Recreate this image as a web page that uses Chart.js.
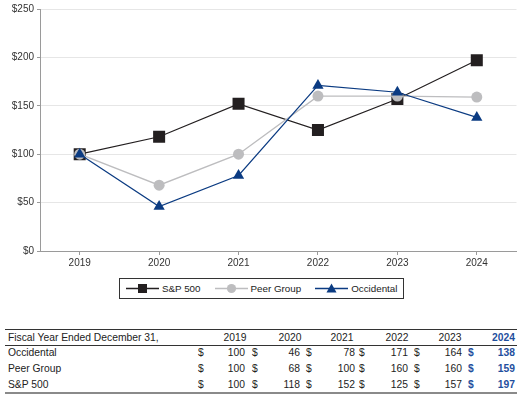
<!DOCTYPE html>
<html>
<head>
<meta charset="utf-8">
<script src="https://cdn.jsdelivr.net/npm/chart.js@4"></script>
<style>
  body { margin: 0; background: #fff; font-family: "Liberation Sans", Arial, sans-serif; color: #222; }
  #wrap { position: relative; width: 525px; height: 399px; overflow: hidden; }
  #chartBox { position: absolute; left: 0; top: 0; width: 525px; height: 272px; }
  #legend { position: absolute; left: 119px; top: 278px; width: 285px; height: 21px; border: 1px solid #333;
            display: flex; align-items: center; padding-left: 6px; box-sizing: border-box; font-size: 9.8px;
            white-space: nowrap; }
  #legend .item { display: flex; align-items: center; margin-right: 14px; flex-shrink: 0; }
  #legend .item span { margin-left: 3px; }
  #legend svg { flex-shrink: 0; }
  #table .t { position: absolute; font-size: 10.3px; line-height: 12px; white-space: nowrap; }
  .rule { position: absolute; left: 5px; width: 512px; }
</style>
</head>
<body>
<div id="wrap">
  <div id="chartBox"><canvas id="c" width="525" height="272"></canvas></div>
  <div id="legend"></div>
  <div id="table"></div>
</div>
<script>
// --- data ---
const years      = ['2019', '2020', '2021', '2022', '2023', '2024'];
const occidental = [100, 46, 78, 171, 164, 138];
const peerGroup  = [100, 68, 100, 160, 160, 159];
const sp500      = [100, 118, 152, 125, 157, 197];
const yTicks     = [0, 50, 100, 150, 200, 250];
const tableHead  = 'Fiscal Year Ended December 31,';

const NAVY = '#0b3b82';
const GRAY = '#bdbdbf';
const BLACK = '#231f20';
const HILITE = '#1f4f9e';

// legend/table order
const series = [
  { label: 'S&P 500',    data: sp500,      color: BLACK, style: 'rect',     r: 8.5, bw: 1.2 },
  { label: 'Peer Group', data: peerGroup,  color: GRAY,  style: 'circle',   r: 5.5, bw: 1.4 },
  { label: 'Occidental', data: occidental, color: NAVY,  style: 'triangle', r: 6.5, bw: 1.2 }
];

// first dataset is drawn on top, so reverse
const datasets = series.slice().reverse().map(s => ({
  label: s.label,
  data: s.data,
  borderColor: s.color,
  backgroundColor: s.color,
  borderWidth: s.bw,
  pointStyle: s.style,
  pointRadius: s.r,
  pointHoverRadius: s.r,
  pointBorderWidth: 0,
  tension: 0
}));

new Chart(document.getElementById('c'), {
  type: 'line',
  data: { labels: years, datasets },
  options: {
    responsive: false,
    animation: false,
    devicePixelRatio: 1,
    layout: { padding: { top: 6, right: 8, left: 0, bottom: 0 } },
    plugins: { legend: { display: false }, tooltip: { enabled: false } },
    scales: {
      x: {
        offset: true,
        grid: { drawOnChartArea: false, tickLength: 4, tickColor: '#9a9a9a' },
        border: { color: '#9a9a9a', width: 1 },
        ticks: { color: '#333', padding: 2, font: { family: 'Liberation Sans', size: 10 } },
        afterFit: s => { s.height = 21; }
      },
      y: {
        min: 0, max: 250,
        afterBuildTicks: s => { s.ticks = yTicks.map(v => ({ value: v })); },
        grid: { color: '#e6e6e6', tickLength: 3, tickColor: '#9a9a9a' },
        border: { color: '#9a9a9a', width: 1 },
        ticks: { color: '#333', padding: 3, font: { family: 'Liberation Sans', size: 10 },
                 callback: v => '$' + v },
        afterFit: s => { s.width = 40; }
      }
    }
  }
});

// --- legend ---
const legend = document.getElementById('legend');
series.forEach(s => {
  let mark = '';
  if (s.style === 'rect') mark = `<rect x="12" y="6" width="9" height="9" fill="${s.color}"/>`;
  else if (s.style === 'circle') mark = `<circle cx="16.5" cy="10.5" r="4.6" fill="${s.color}"/>`;
  else mark = `<polygon points="16.5,5.5 21.5,14.5 11.5,14.5" fill="${s.color}"/>`;
  const item = document.createElement('div');
  item.className = 'item';
  item.innerHTML = `<svg width="33" height="21"><line x1="0" y1="10.5" x2="33" y2="10.5" stroke="${s.color}" stroke-width="1.3"/>${mark}</svg><span>${s.label}</span>`;
  legend.appendChild(item);
});

// --- table ---
const table = document.getElementById('table');
function txt(str, x, y, align, bold, color) {
  const d = document.createElement('div');
  d.className = 't';
  d.textContent = str;
  d.style.top = (y - 6) + 'px';
  if (align === 'right') { d.style.right = (525 - x) + 'px'; }
  else if (align === 'center') { d.style.left = (x - 30) + 'px'; d.style.width = '60px'; d.style.textAlign = 'center'; }
  else { d.style.left = x + 'px'; }
  if (bold) d.style.fontWeight = 'bold';
  if (color) d.style.color = color;
  table.appendChild(d);
}
function rule(y, h, color) {
  const d = document.createElement('div');
  d.className = 'rule';
  d.style.top = y + 'px';
  d.style.height = h + 'px';
  d.style.background = color;
  table.appendChild(d);
}
const dollarX = [198, 252, 306, 359, 414, 468];
const valueR  = [245, 300, 355, 408, 462, 515];
const headX   = [235, 290, 342, 397, 450];
rule(329, 1, '#333');
rule(345, 1, '#333');
rule(392, 2, '#8a8a8a');
txt(tableHead, 8, 338, 'left');
years.forEach((y, i) => {
  const last = i === years.length - 1;
  if (last) txt(y, valueR[i], 338, 'right', true, HILITE);
  else txt(y, headX[i], 338, 'center');
});
[['Occidental', occidental], ['Peer Group', peerGroup], ['S&P 500', sp500]].forEach(([name, vals], r) => {
  const yy = 353 + r * 16;
  txt(name, 8, yy, 'left');
  vals.forEach((v, i) => {
    const last = i === vals.length - 1;
    txt('$', dollarX[i], yy, 'left', last, last ? HILITE : null);
    txt(String(v), valueR[i], yy, 'right', last, last ? HILITE : null);
  });
});
</script>
</body>
</html>
